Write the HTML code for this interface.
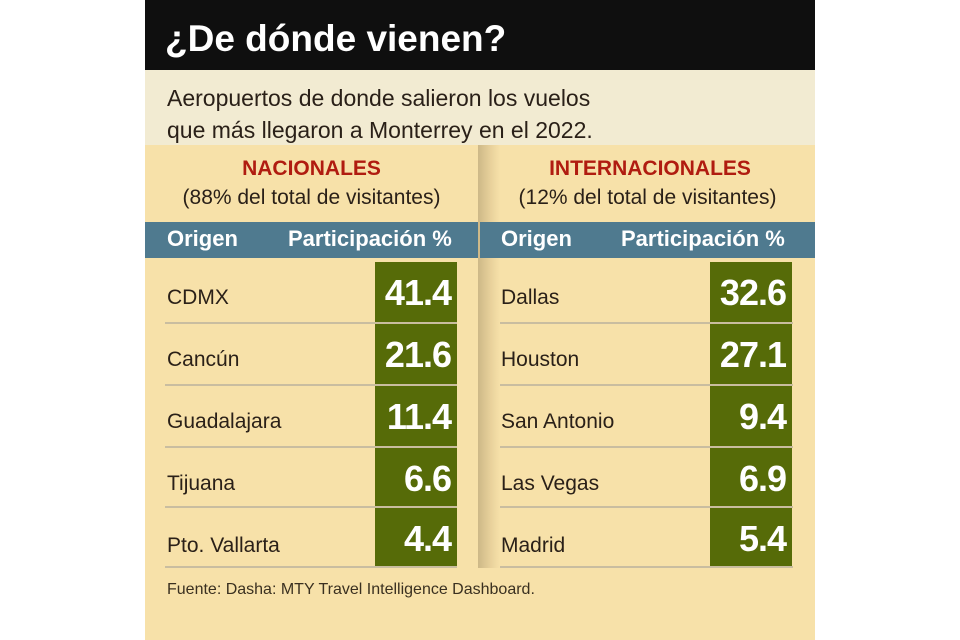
<!DOCTYPE html>
<html><head><meta charset="utf-8"><style>
body{margin:0;width:960px;height:640px;background:#fff;position:relative;overflow:hidden;font-family:"Liberation Sans",sans-serif}
.a{position:absolute}
.num{position:absolute;background:#566b08;color:#fff;font-weight:bold;font-size:36px;text-align:right;box-sizing:border-box;padding-right:6px;line-height:62px;width:82px;height:60px;letter-spacing:-1px}
.row{position:absolute;font-size:21px;color:#2a2018}
.ln{position:absolute;height:2px;background:#c9bda0}
</style></head><body>
<div class="a" style="left:145px;top:0;width:670px;height:640px;background:#f7e1a9"></div>
<div class="a" style="left:145px;top:0;width:670px;height:70px;background:#0f0f0f"></div>
<div class="a" style="left:165px;top:18px;color:#fff;font-weight:bold;font-size:37px">¿De dónde vienen?</div>
<div class="a" style="left:145px;top:70px;width:670px;height:75px;background:#f2ebd2"></div>
<div class="a" style="left:167px;top:82px;font-size:23px;line-height:32px;color:#2a2018">Aeropuertos de donde salieron los vuelos<br>que más llegaron a Monterrey en el 2022.</div>
<div class="a" style="left:478px;top:145px;width:22px;height:423px;background:linear-gradient(90deg,#cdb887,#e9d29c 60%,#f7e1a9)"></div>
<div class="a" style="left:145px;top:157px;width:333px;text-align:center;color:#b01c10;font-weight:bold;font-size:21px">NACIONALES</div>
<div class="a" style="left:145px;top:186px;width:333px;text-align:center;color:#2a2018;font-size:21px">(88% del total de visitantes)</div>
<div class="a" style="left:500px;top:157px;width:300px;text-align:center;color:#b01c10;font-weight:bold;font-size:21px">INTERNACIONALES</div>
<div class="a" style="left:480px;top:186px;width:335px;text-align:center;color:#2a2018;font-size:21px">(12% del total de visitantes)</div>
<div class="a" style="left:145px;top:222px;width:333px;height:36px;background:#4f7a8f"></div>
<div class="a" style="left:480px;top:222px;width:335px;height:36px;background:#4f7a8f"></div>
<div class="a" style="left:167px;top:226px;color:#fff;font-weight:bold;font-size:22px">Origen</div>
<div class="a" style="left:288px;top:226px;color:#fff;font-weight:bold;font-size:22px">Participación %</div>
<div class="a" style="left:501px;top:226px;color:#fff;font-weight:bold;font-size:22px">Origen</div>
<div class="a" style="left:621px;top:226px;color:#fff;font-weight:bold;font-size:22px">Participación %</div>

<div class="num" style="left:375px;top:262px">41.4</div>
<div class="num" style="left:375px;top:324px">21.6</div>
<div class="num" style="left:375px;top:386px">11.4</div>
<div class="num" style="left:375px;top:448px">6.6</div>
<div class="num" style="left:375px;top:508px">4.4</div>
<div class="num" style="left:710px;top:262px">32.6</div>
<div class="num" style="left:710px;top:324px">27.1</div>
<div class="num" style="left:710px;top:386px">9.4</div>
<div class="num" style="left:710px;top:448px">6.9</div>
<div class="num" style="left:710px;top:508px">5.4</div>

<div class="row" style="left:167px;top:286px">CDMX</div>
<div class="row" style="left:167px;top:348px">Cancún</div>
<div class="row" style="left:167px;top:410px">Guadalajara</div>
<div class="row" style="left:167px;top:472px">Tijuana</div>
<div class="row" style="left:167px;top:534px">Pto. Vallarta</div>
<div class="row" style="left:501px;top:286px">Dallas</div>
<div class="row" style="left:501px;top:348px">Houston</div>
<div class="row" style="left:501px;top:410px">San Antonio</div>
<div class="row" style="left:501px;top:472px">Las Vegas</div>
<div class="row" style="left:501px;top:534px">Madrid</div>

<div class="ln" style="left:165px;top:322px;width:292px"></div>
<div class="ln" style="left:165px;top:384px;width:292px"></div>
<div class="ln" style="left:165px;top:446px;width:292px"></div>
<div class="ln" style="left:165px;top:506px;width:292px"></div>
<div class="ln" style="left:165px;top:566px;width:292px"></div>
<div class="ln" style="left:500px;top:322px;width:293px"></div>
<div class="ln" style="left:500px;top:384px;width:293px"></div>
<div class="ln" style="left:500px;top:446px;width:293px"></div>
<div class="ln" style="left:500px;top:506px;width:293px"></div>
<div class="ln" style="left:500px;top:566px;width:293px"></div>

<div class="a" style="left:167px;top:581px;font-size:16px;color:#3a3020">Fuente: Dasha: MTY Travel Intelligence Dashboard.</div>
</body></html>
